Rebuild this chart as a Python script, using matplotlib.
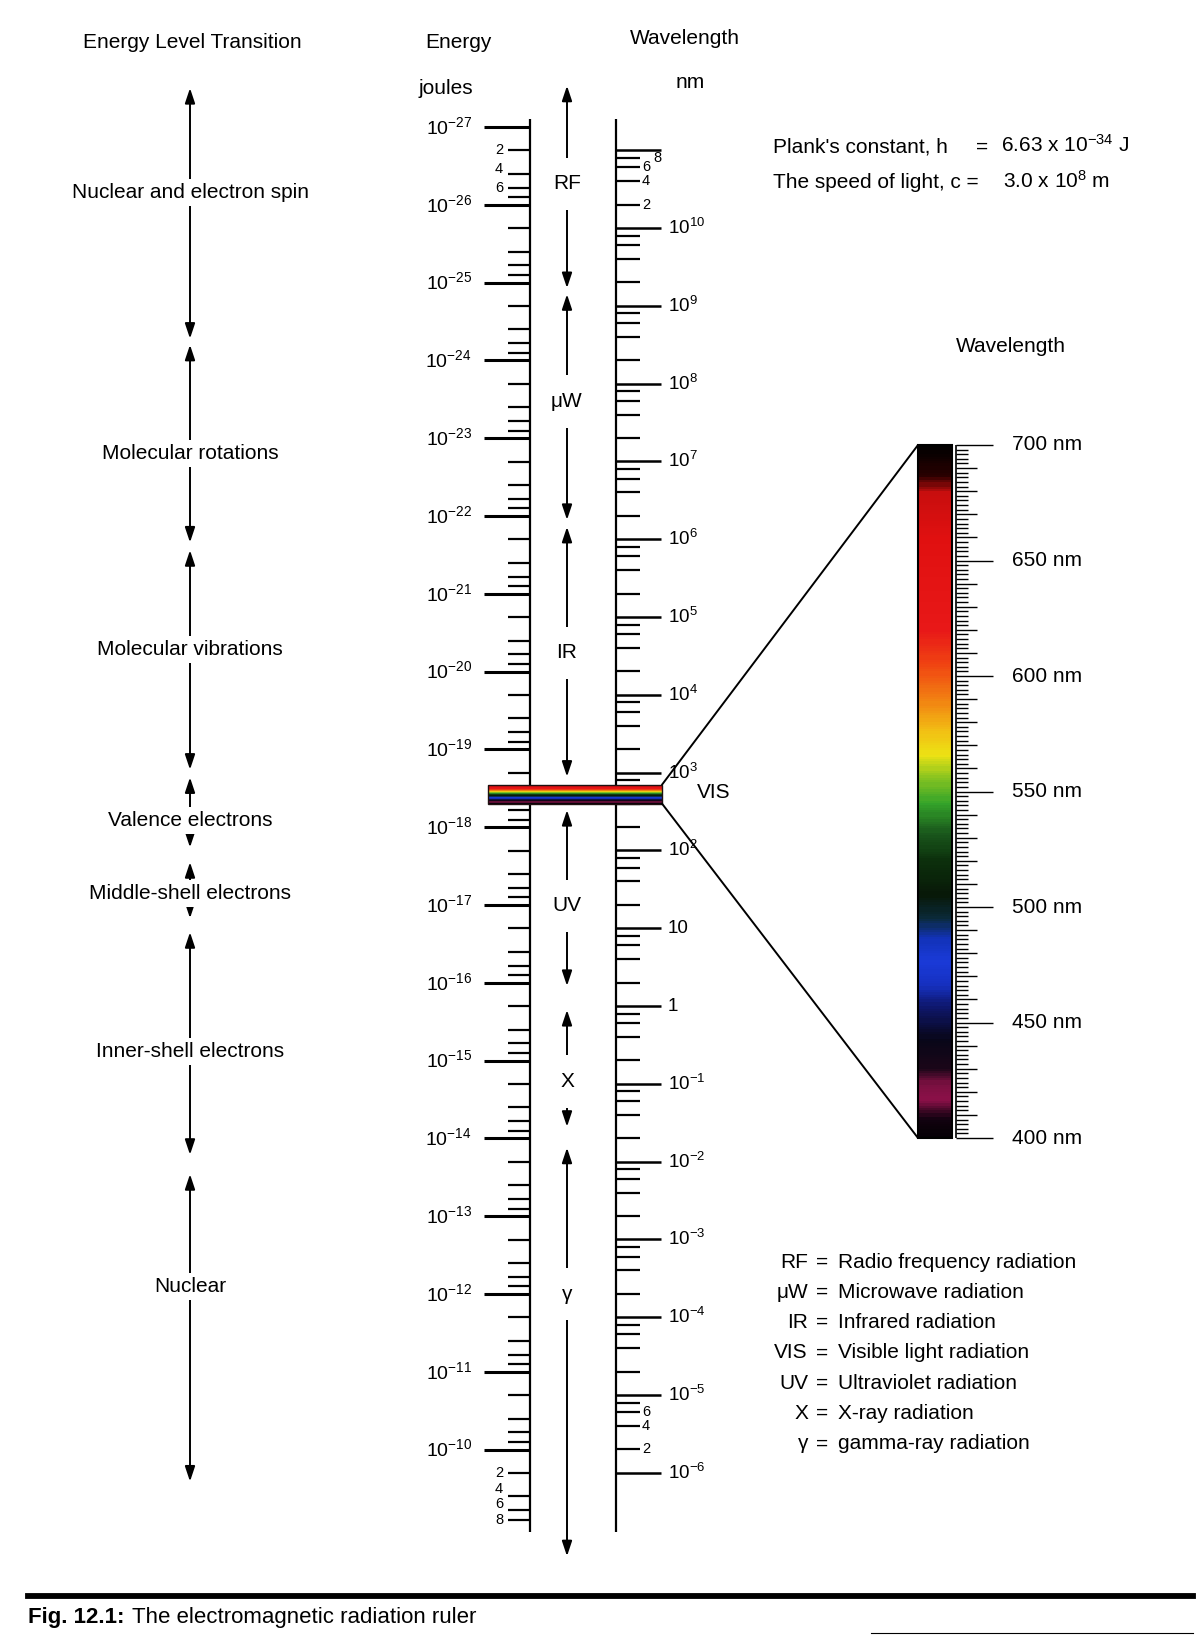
import numpy as np
import matplotlib
matplotlib.use('Agg')
import matplotlib.pyplot as plt
from matplotlib.colors import LinearSegmentedColormap, Normalize
from matplotlib.patches import ConnectionPatch, Rectangle
from matplotlib.lines import Line2D

plt.rcParams['font.family'] = ['Liberation Sans', 'DejaVu Sans']
plt.rcParams['mathtext.fontset'] = 'custom'
plt.rcParams['mathtext.rm'] = 'Liberation Sans'
plt.rcParams['mathtext.it'] = 'Liberation Sans:italic'
plt.rcParams['mathtext.bf'] = 'Liberation Sans:bold'
plt.rcParams['mathtext.default'] = 'regular'

# physical constants (as printed on the chart)
h = 6.63e-34
c = 3.0e8
HC_NM = h * c * 1e9  # J * nm, so E = HC_NM / wavelength_nm

# ruler ticks
energy_decades = list(range(-27, -9))     # 10^-27 ... 10^-10 J
wave_decades = list(range(11, -7, -1))     # 10^11 ... 10^-6 nm
minor_steps = [2, 4, 6, 8]

# energy level transitions (log10 of energy in J)
transitions = ['Nuclear and electron spin', 'Molecular rotations',
               'Molecular vibrations', 'Valence electrons',
               'Middle-shell electrons', 'Inner-shell electrons', 'Nuclear']
trans_top = [-27.50, -24.20, -21.56, -18.64, -17.55, -16.65, -13.54]
trans_bottom = [-24.28, -21.66, -18.74, -17.74, -16.83, -13.79, -9.59]
trans_label = [-26.16, -22.80, -20.28, -18.09, -17.15, -15.12, -12.10]

# radiation bands (log10 of energy in J)
bands = ['RF', 'μW', 'IR', 'UV', 'X', 'γ']
band_top = [-27.53, -24.85, -21.86, -18.22, -15.65, -13.88]
band_bottom = [-24.93, -21.95, -18.65, -15.96, -14.15, -8.63]
band_label = [-26.27, -23.47, -20.24, -16.99, -14.73, -12.00]

vis_nm = [400, 700]

legend_abbr = ['RF', 'μW', 'IR', 'VIS', 'UV', 'X', 'γ']
legend_text = ['Radio frequency radiation', 'Microwave radiation',
               'Infrared radiation', 'Visible light radiation',
               'Ultraviolet radiation', 'X-ray radiation', 'gamma-ray radiation']

# colours of the printed spectrum strip
spec_nm = [400, 408, 416, 423, 430, 442, 456, 466, 476, 486, 495, 505, 520,
           532, 545, 556, 566, 576, 590, 605, 620, 660, 680, 687, 700]
spec_col = ['#050005', '#120210', '#8a1048', '#7a1040', '#1a0618', '#080618',
            '#0e1668', '#1630c0', '#1a3ad8', '#1232b8', '#0a2a38', '#081808',
            '#0c300c', '#1a581c', '#34a42a', '#88c420', '#ece214', '#f2c014',
            '#f28012', '#f04412', '#e81818', '#e01010', '#c80e0e', '#2a0000',
            '#000000']

W, H = 1203, 1636
Y0, DEC = 127.0, 77.8   # pixel row of 10^-27 J and pixels per decade
log_top = -27 - Y0 / DEC
log_bot = -27 + (H - Y0) / DEC

fig = plt.figure(figsize=(W / 100, H / 100), dpi=100)
fig.patch.set_facecolor('white')
ax = fig.add_axes([0, 0, 1, 1])
ax.set_xlim(0, W)
ax.set_yscale('log')
ax.set_ylim(10 ** log_bot, 10 ** log_top)
ax.axis('off')


def ftext(x, y, s, **kw):
    return fig.text(x / W, 1 - y / H, s, **kw)


def wave_label(k):
    if k == 0:
        return '1'
    if k == 1:
        return '10'
    return '10$^{%d}$' % k


E_X = 530
L_X = 616
line_top = 10 ** -27.10
line_bot = 10 ** -8.94

# energy ruler
ax.vlines(E_X, line_top, line_bot, color='k', lw=1.6)
ax.hlines([10.0 ** k for k in energy_decades], 484, E_X, color='k', lw=2.2)
e_minor = [m * 10.0 ** k for k in energy_decades for m in minor_steps]
ax.hlines(e_minor, 508, E_X, color='k', lw=1.6)
for k in energy_decades:
    ax.text(472, 10.0 ** k, '10$^{%d}$' % k, ha='right', va='center', fontsize=14)
# small numbers are spread evenly between the first and last tick they name
top_logs = np.log10(minor_steps[:3]) + energy_decades[0]
for m, lg in zip(minor_steps[:3], np.linspace(top_logs[0], top_logs[-1], 3)):
    ax.text(503, 10 ** lg, str(m), ha='right', va='center', fontsize=10.5)
bot_logs = np.log10(minor_steps) + energy_decades[-1]
for m, lg in zip(minor_steps, np.linspace(bot_logs[0], bot_logs[-1], 4)):
    ax.text(503, 10 ** lg, str(m), ha='right', va='center', fontsize=10.5)

# wavelength ruler
ax.vlines(L_X, line_top, line_bot, color='k', lw=1.6)
ax.hlines([HC_NM / 10.0 ** k for k in wave_decades], L_X, L_X + 45, color='k', lw=1.8)
w_minor = [HC_NM / (m * 10.0 ** k) for k in wave_decades[1:] for m in minor_steps]
ax.hlines(w_minor, L_X, L_X + 24, color='k', lw=1.6)
for k in wave_decades[1:]:
    ax.text(668, HC_NM / 10.0 ** k, wave_label(k), ha='left', va='center', fontsize=13.5)
for m in minor_steps:
    ax.text(653 if m == 8 else 642, HC_NM / (m * 10.0 ** wave_decades[1]), str(m),
            ha='left', va='center', fontsize=10.5)
for m in minor_steps[:3]:
    ax.text(642, HC_NM / (m * 10.0 ** wave_decades[-1]), str(m),
            ha='left', va='center', fontsize=10.5)

# double arrows with labels
arrow_kw = dict(arrowstyle='<|-|>,head_length=0.9,head_width=0.3', color='k',
                lw=1.4, shrinkA=0, shrinkB=0, mutation_scale=10)
for name, t, b, lab in zip(transitions, trans_top, trans_bottom, trans_label):
    ax.annotate('', xy=(190, 10 ** b), xytext=(190, 10 ** t), arrowprops=arrow_kw, zorder=2)
    ax.text(190, 10 ** lab, name, ha='center', va='center', fontsize=15, zorder=3,
            bbox=dict(boxstyle='square,pad=0.2', fc='white', ec='none'))
for name, t, b, lab in zip(bands, band_top, band_bottom, band_label):
    ax.annotate('', xy=(567, 10 ** b), xytext=(567, 10 ** t), arrowprops=arrow_kw, zorder=2)
    ax.text(567, 10 ** lab, name, ha='center', va='center', fontsize=15, zorder=3,
            bbox=dict(boxstyle='square,pad=0.8', fc='white', ec='none'))

# visible strip on the ruler
cmap = LinearSegmentedColormap.from_list(
    'spec', [((n - 400) / 300, col) for n, col in zip(spec_nm, spec_col)])
norm = Normalize(vis_nm[0], vis_nm[1])
lam = np.linspace(vis_nm[0], vis_nm[1], 301)
lam_mid = (lam[:-1] + lam[1:]) / 2
ax.pcolormesh([488, 662], HC_NM / lam, lam_mid[:, None], cmap=cmap, norm=norm,
              shading='flat', zorder=4)
e700, e400 = HC_NM / vis_nm[1], HC_NM / vis_nm[0]
ax.add_patch(Rectangle((488, e700), 174, e400 - e700, fill=False, ec='#201010',
                       lw=1.0, zorder=5))
ax.text(697, HC_NM / 550, 'VIS', ha='left', va='center', fontsize=15)

# enlarged visible spectrum
x0, x1 = 918, 1110
y0, y1 = 445, 1138
ax2 = fig.add_axes([x0 / W, 1 - y1 / H, (x1 - x0) / W, (y1 - y0) / H])
ax2.set_xlim(x0, x1)
ax2.set_ylim(vis_nm[0], vis_nm[1])
ax2.axis('off')
ax2.pcolormesh([918, 952], lam, lam_mid[:, None], cmap=cmap, norm=norm, shading='flat')
ax2.add_patch(Rectangle((918, vis_nm[0]), 34, vis_nm[1] - vis_nm[0], fill=False,
                        ec='k', lw=1.5, clip_on=False))
ax2.vlines(956, vis_nm[0], vis_nm[1], color='k', lw=1.2)
nm_ticks = np.arange(vis_nm[0], vis_nm[1] + 1, 2)
tick_len = np.where(nm_ticks % 50 == 0, 37, np.where(nm_ticks % 10 == 0, 21, 12))
ax2.hlines(nm_ticks, 956, 956 + tick_len, color='k', lw=1.0, clip_on=False)
for nm in range(vis_nm[0], vis_nm[1] + 1, 50):
    ax2.text(1012, nm, '%d nm' % nm, ha='left', va='center', fontsize=15, clip_on=False)

for e_val, nm in [(e700, vis_nm[1]), (e400, vis_nm[0])]:
    con = ConnectionPatch(xyA=(662, e_val), coordsA=ax.transData,
                          xyB=(918, nm), coordsB=ax2.transData, color='k', lw=1.4)
    fig.add_artist(con)

# headers
ftext(192, 42, 'Energy Level Transition', ha='center', va='center', fontsize=15)
ftext(458, 42, 'Energy', ha='center', va='center', fontsize=15)
ftext(446, 88, 'joules', ha='center', va='center', fontsize=15)
ftext(685, 38, 'Wavelength', ha='center', va='center', fontsize=15)
ftext(690, 83, 'nm', ha='center', va='center', fontsize=15)
ftext(1011, 346, 'Wavelength', ha='center', va='center', fontsize=15)

# constants
ftext(773, 147, "Plank's constant, h", ha='left', va='center', fontsize=15)
ftext(982, 147, '=', ha='center', va='center', fontsize=15)
ftext(1001, 145, '6.63 x 10$^{-34}$ J', ha='left', va='center', fontsize=15)
ftext(773, 183, 'The speed of light, c =', ha='left', va='center', fontsize=15)
ftext(1003, 181, '3.0 x 10$^{8}$ m', ha='left', va='center', fontsize=15)

# abbreviations
for i, (ab, txt) in enumerate(zip(legend_abbr, legend_text)):
    yy = 1262 + 30.3 * i
    ftext(808, yy, ab, ha='right', va='center', fontsize=15)
    ftext(822, yy, '=', ha='center', va='center', fontsize=15)
    ftext(838, yy, txt, ha='left', va='center', fontsize=15)

# caption
fig.add_artist(Line2D([28 / W, 1193 / W], [1 - 1596 / H] * 2, color='k', lw=4.2))
fig.add_artist(Line2D([871 / W, 1193 / W], [1 - 1633 / H] * 2, color='k', lw=0.8))
cap = ftext(28, 1618, 'Fig. 12.1:', ha='left', va='center', fontsize=16, fontweight='bold')
renderer = fig.canvas.get_renderer()
cap_end = cap.get_window_extent(renderer).x1
ftext(cap_end + 7, 1618, 'The electromagnetic radiation ruler',
      ha='left', va='center', fontsize=16)

fig.savefig('out.png', dpi=100, facecolor='white')
